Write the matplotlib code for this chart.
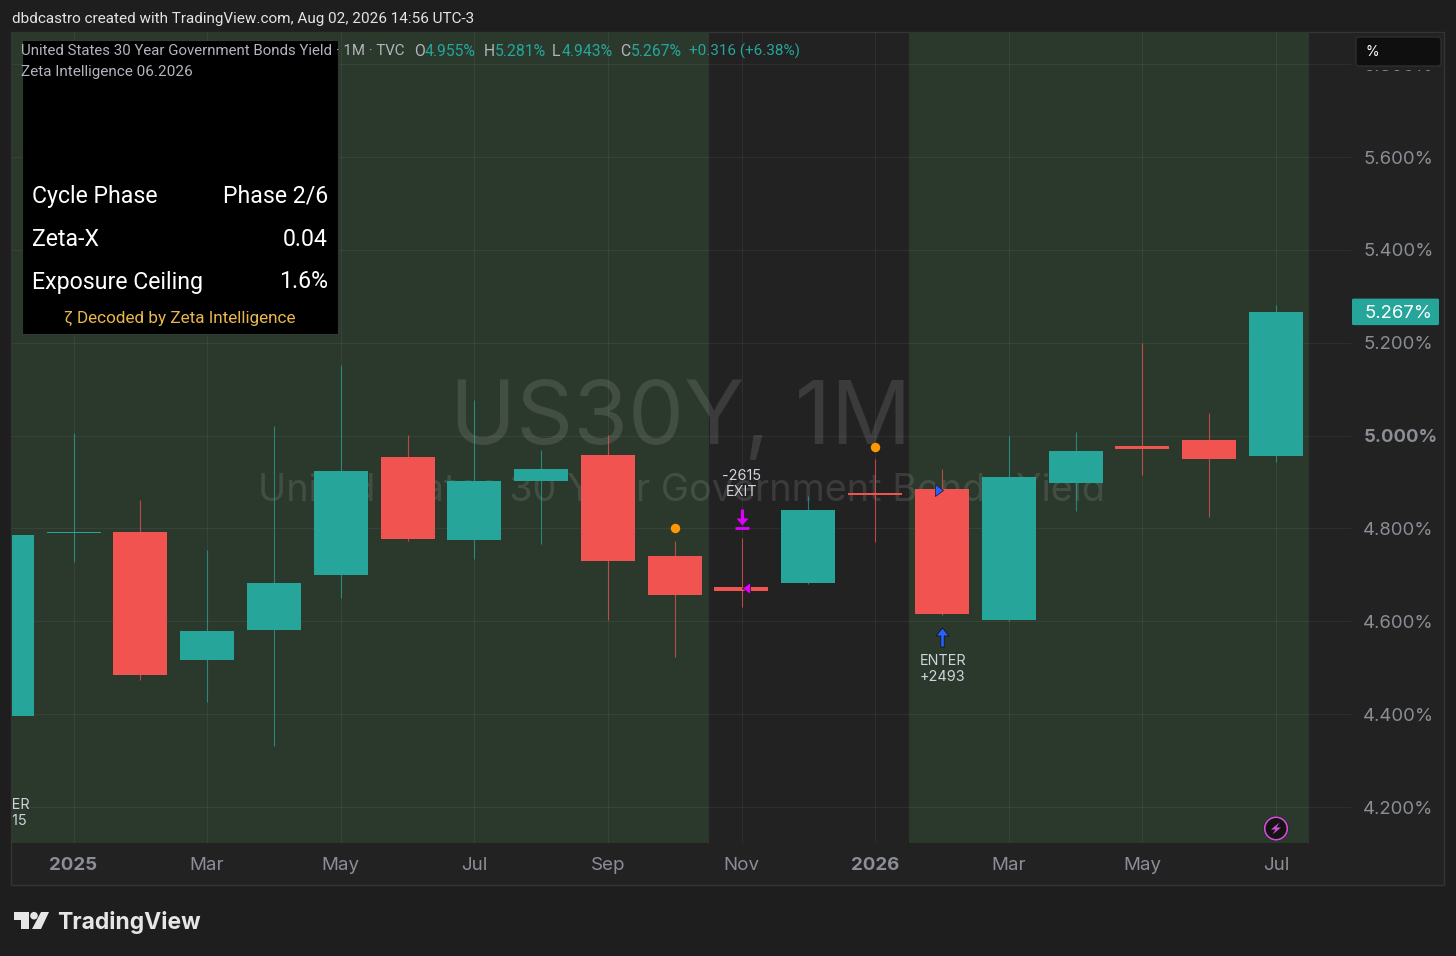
import matplotlib
matplotlib.use("Agg")
import matplotlib.pyplot as plt
from matplotlib.patches import Rectangle, FancyBboxPatch, Polygon, Circle
from matplotlib.path import Path

W, H = 1456, 956

# ---------- data ----------
months = list(range(-1, 19))
opens  = [4.396, 4.790, 4.793, 4.517, 4.581, 4.700, 4.954, 4.775, 4.902, 4.958, 4.741, 4.674, 4.683, 4.877, 4.885, 4.602, 4.898, 4.978, 4.991, 4.955]
highs  = [4.786, 5.006, 4.861, 4.754, 5.021, 5.152, 5.001, 5.077, 4.969, 5.001, 4.773, 4.779, 4.870, 4.950, 4.928, 4.999, 5.008, 5.199, 5.049, 5.281]
lows   = [4.396, 4.728, 4.474, 4.426, 4.331, 4.650, 4.773, 4.734, 4.766, 4.603, 4.523, 4.631, 4.680, 4.771, 4.614, 4.601, 4.838, 4.915, 4.825, 4.943]
closes = [4.786, 4.793, 4.484, 4.579, 4.683, 4.924, 4.777, 4.902, 4.928, 4.730, 4.657, 4.665, 4.840, 4.872, 4.616, 4.910, 4.967, 4.972, 4.950, 5.267]

tick_pos = [0, 2, 4, 6, 8, 10, 12, 14, 16, 18]
tick_labels = ["2025", "Mar", "May", "Jul", "Sep", "Nov", "2026", "Mar", "May", "Jul"]
price_ticks = [4.2, 4.4, 4.6, 4.8, 5.0, 5.2, 5.4, 5.6, 5.8]
green_spans = [(-0.92, 9.515), (12.51, 18.5)]
orange_x = [9, 12]
orange_y = [4.801, 4.975]
last_price = 5.267

table_rows = [("Cycle Phase", "Phase 2/6"), ("Zeta-X", "0.04"), ("Exposure Ceiling", "1.6%")]

# ---------- colours ----------
OUTER = "#1e1e1e"
PANE = "#222222"
GREEN = "#2b382c"
TEAL = "#26a69a"
RED = "#f05350"
GREY = "#b2b5be"
AXIS = "#8b8e96"
FONT = "Inter"

fig = plt.figure(figsize=(W / 100, H / 100), dpi=100, facecolor=OUTER)

# pixel scale helpers
PX_L, PX_R, PX_T, PX_B = 12, 1351, 32, 843
def x2d(px):
    return (px - 73.5) / 66.8
def y2d(py):
    return 5.6 - (py - 157) / 464.3

# pane background / chrome layer
bg = fig.add_axes([0, 0, 1, 1], zorder=0)
bg.set_xlim(0, W); bg.set_ylim(H, 0); bg.axis("off")
bg.add_patch(Rectangle((11, 32), 1433, 853, fc=PANE, ec="#343434", lw=1))

ax = fig.add_axes([PX_L / W, 1 - PX_B / H, (PX_R - PX_L) / W, (PX_B - PX_T) / H], zorder=1)
ax.patch.set_alpha(0)
ax.set_xlim(x2d(PX_L), x2d(PX_R))
ax.set_ylim(y2d(PX_B), y2d(PX_T))
for s in ax.spines.values():
    s.set_visible(False)
ax.set_xticks([]); ax.set_yticks([])

for a, b in green_spans:
    ax.axvspan(a, b, color=GREEN, lw=0, zorder=0)
for p in price_ticks:
    ax.axhline(p, color="white", alpha=0.06, lw=0.8, zorder=1)
for t in tick_pos:
    ax.axvline(t, color="white", alpha=0.06, lw=0.8, zorder=1)

# watermark
ax.text(x2d(681), y2d(421), "US30Y, 1M", ha="center", va="center", fontsize=64,
        color="#ffffff", alpha=0.115, family=FONT, zorder=1.5)
ax.text(x2d(681), y2d(491), "United States 30 Year Government Bonds Yield", ha="center",
        va="center", fontsize=27.3, color="#ffffff", alpha=0.115, family=FONT, zorder=1.5)

# candles
BODY_W = 54 / 66.8
for m, o, h, l, c in zip(months, opens, highs, lows, closes):
    col = TEAL if c >= o else RED
    ax.vlines(m, l, h, color=col, lw=0.8, alpha=0.72, zorder=2)
    ax.bar(m, abs(c - o), bottom=min(o, c), width=BODY_W, color=col, lw=0, zorder=3)

# signals
ax.plot(orange_x, orange_y, "o", color="#ff9800", ms=6.8, mew=0, zorder=4)

exit_path = Path([(-0.2, 1), (0.2, 1), (0.2, -0.13), (0.75, -0.13), (0, -1), (-0.75, -0.13), (-0.2, -0.13), (-0.2, 1)],
                 [1, 2, 2, 2, 2, 2, 2, 79])
enter_path = Path([(-0.18, -1), (0.18, -1), (0.18, 0.16), (0.68, 0.16), (0, 1), (-0.68, 0.16), (-0.18, 0.16), (-0.18, -1)],
                  [1, 2, 2, 2, 2, 2, 2, 79])
left_tri = Path([(-0.67, 0), (0.67, 1), (0.67, -1), (-0.67, 0)], [1, 2, 2, 79])
right_tri = Path([(0.67, 0), (-0.67, 1), (-0.67, -1), (0.67, 0)], [1, 2, 2, 79])

ax.plot([10], [y2d(517)], marker=exit_path, ms=11.5, color="#e000ff", mew=0, zorder=5)
ax.plot([10], [y2d(527.5)], marker="_", ms=9.5, mew=2, color="#e000ff", zorder=5)
ax.plot([13], [y2d(636.5)], marker=enter_path, ms=13.7, color="#2962ff", mec="#10131c", mew=0.6, zorder=5)
ax.plot([10.06], [y2d(587.5)], marker=left_tri, ms=8.6, color="#e000ff", mec="#181818", mew=0.5, zorder=5)
ax.plot([12.95], [y2d(490)], marker=right_tri, ms=8.6, color="#2962ff", mec="#181818", mew=0.5, zorder=5)

tkw = dict(ha="center", va="center", fontsize=10.4, color="#d1d4dc", family=FONT, zorder=6, clip_on=True)
ax.text(10, y2d(476), "-2615", **tkw)
ax.text(10, y2d(492), "EXIT", **tkw)
ax.text(13.015, y2d(661), "ENTER", **tkw)
ax.text(13.015, y2d(677), "+2493", **tkw)
ax.text(-1.0, y2d(805), "ENTER", **tkw)
ax.text(-1.0, y2d(821), "+2515", **tkw)

# overlay in pixel coordinates
ov = fig.add_axes([0, 0, 1, 1], zorder=2)
ov.patch.set_alpha(0)
ov.set_xlim(0, W); ov.set_ylim(H, 0); ov.axis("off")

# price scale
for p in price_ticks:
    bold = abs(p - 5.0) < 1e-6
    ov.text(1401 if bold else 1398.5, 159 + (5.6 - p) * 464.3, f"{p:.3f}%", ha="center", va="center",
            fontsize=13.3, color=AXIS, family=FONT, fontweight="bold" if bold else "normal")
ov.add_patch(Rectangle((1352, 33), 91, 37, fc=PANE, ec="none", zorder=3))
ov.add_patch(FancyBboxPatch((1356, 37), 85, 29, boxstyle="round,pad=0,rounding_size=3",
                            fc="#0f0f0f", ec="#2e2e2e", lw=1, zorder=4))
ov.text(1365.5, 52, "%", ha="left", va="center", fontsize=10, color="white", family=FONT, zorder=5)

ly = 157 + (5.6 - last_price) * 464.3
ov.add_patch(FancyBboxPatch((1352, ly - 13), 87, 26.5, boxstyle="round,pad=0,rounding_size=1.5",
                            fc=TEAL, ec="none", zorder=4))
ov.text(1398.5, ly + 1.5, f"{last_price:.3f}%", ha="center", va="center", fontsize=13.3, color="white", family=FONT, zorder=5)

# time axis
for t, lab in zip(tick_pos, tick_labels):
    bold = lab.isdigit()
    ov.text(73.5 + t * 66.8, 866, lab, ha="center", va="center", fontsize=13.5, color=AXIS,
            family=FONT, fontweight="bold" if bold else "normal")

# table
ov.add_patch(Rectangle((21.5, 40), 316.5, 293.5, fc="#000000", ec="#2f3a33", lw=0.8, zorder=2))
for (lab, val), y in zip(table_rows, [196, 239, 282]):
    ov.text(32, y, lab, ha="left", va="center", fontsize=16.7, color="white", family="Roboto", zorder=3)
    ov.text(328, y, val, ha="right", va="center", fontsize=16.7, color="white", family="Roboto", zorder=3)
ov.text(180, 318.5, "ζ Decoded by Zeta Intelligence", ha="center", va="center", fontsize=12.3,
        color="#e8b84b", family="Roboto", zorder=3)

# legend lines
LKW = dict(ha="left", va="center", family="Roboto", zorder=5)
ov.text(21, 51, "United States 30 Year Government Bonds Yield · 1M · TVC", color=GREY, fontsize=10.85, **LKW)
ov.text(21, 71.5, "Zeta Intelligence 06.2026", color=GREY, fontsize=11, **LKW)
for x, s, c, fs in [(414, "O", GREY, 11.3), (425, "4.955%", TEAL, 11.3), (484, "H", GREY, 11.3), (495, "5.281%", TEAL, 11.3),
                    (552, "L", GREY, 11.3), (562, "4.943%", TEAL, 11.3), (620, "C", GREY, 11.3), (631, "5.267%", TEAL, 11.3),
                    (689, "+0.316 (+6.38%)", TEAL, 11)]:
    ov.text(x, 51, s, color=c, fontsize=fs, **LKW)

# header
ov.text(12, 19, "dbdcastro created with TradingView.com, Aug 02, 2026 14:56 UTC-3", ha="left", va="center",
        fontsize=10.95, color="#e4e4e6", family="Roboto")

# lightning badge
ov.add_patch(Circle((1276, 828.5), 12.5, fc="#141414", ec="none", zorder=4))
ov.add_patch(Circle((1276, 828.5), 11.3, fc="#141414", ec="#d24fd8", lw=1.2, zorder=5))
ov.add_patch(Polygon([(1279.5, 822.5), (1271, 829.5), (1275.5, 829.5), (1272.5, 834.5),
                      (1281, 827.5), (1276.5, 827.5)], closed=True, fc="#d24fd8", ec="none", zorder=6))

# logo
LOGO = "#e6e6e6"
ov.add_patch(Polygon([(14, 912), (29, 912), (29, 929), (21, 929), (21, 920), (14, 920)], closed=True, fc=LOGO, ec="none"))
ov.add_patch(Circle((34, 915.7), 3.8, fc=LOGO, ec="none"))
ov.add_patch(Polygon([(41, 912), (49, 912), (41, 929), (32, 929)], closed=True, fc=LOGO, ec="none"))
ov.text(57, 923, "TradingView", ha="left", va="center", fontsize=16.5, fontweight="bold", color=LOGO, family=FONT)

fig.savefig("out.png", dpi=100, facecolor=OUTER)
